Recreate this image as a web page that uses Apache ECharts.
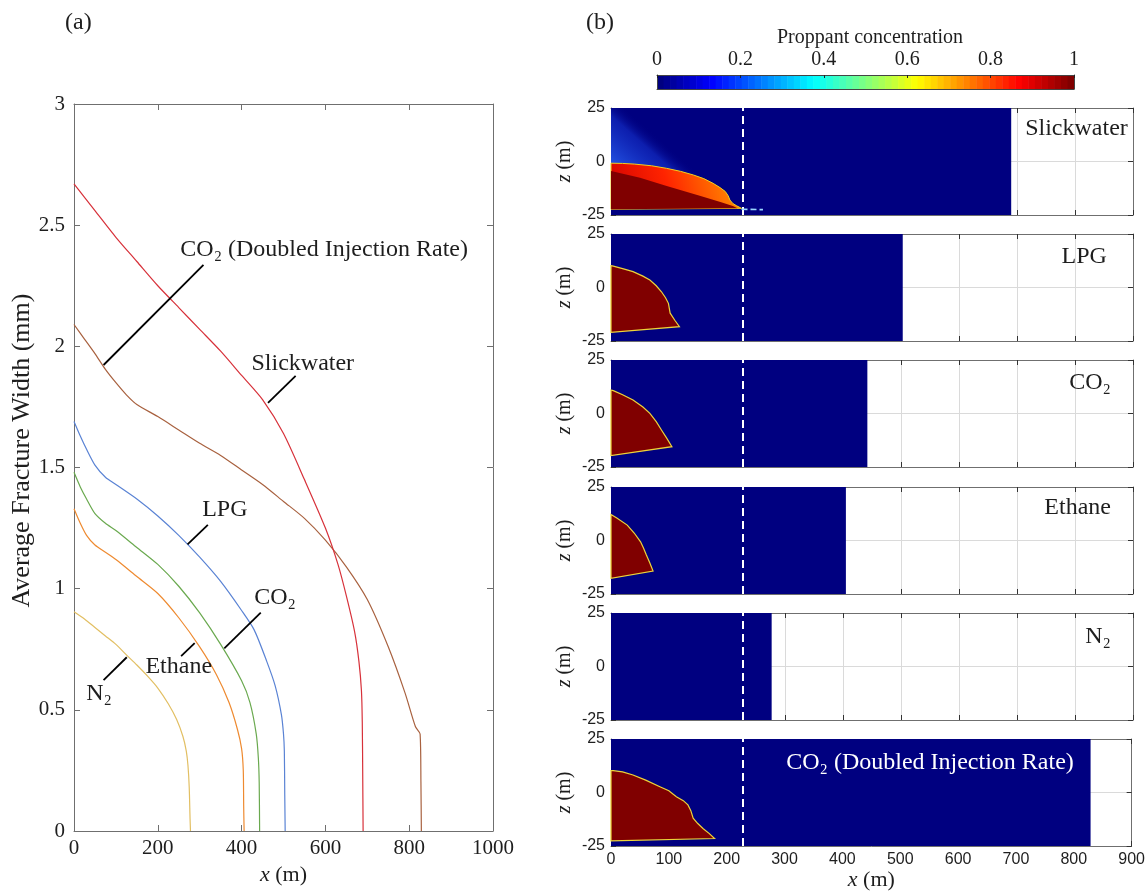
<!DOCTYPE html>
<html>
<head>
<meta charset="utf-8">
<script src="https://cdn.jsdelivr.net/npm/echarts@6/dist/echarts.min.js"></script>
<style>
  html, body { margin: 0; padding: 0; background: #fff; }
  #chart { width: 1148px; height: 896px; }
</style>
</head>
<body>
<div id="chart"></div>
<script>
// ---- (a) average fracture width along the fracture, per fracturing fluid ----
const slickwaterX = [0, 50, 100, 150, 200, 250, 300, 350, 400, 450, 500, 550, 600, 630, 650, 670, 680, 686, 688, 689, 690];
const slickwaterW = [2.67, 2.56, 2.45, 2.35, 2.25, 2.16, 2.07, 1.98, 1.88, 1.78, 1.64, 1.45, 1.25, 1.10, 0.97, 0.82, 0.70, 0.58, 0.45, 0.25, 0];
const lpgX = [0, 15, 30, 50, 75, 100, 150, 200, 250, 300, 350, 400, 430, 460, 480, 495, 500, 502, 503, 504];
const lpgW = [1.69, 1.63, 1.575, 1.51, 1.46, 1.43, 1.37, 1.30, 1.22, 1.13, 1.03, 0.91, 0.83, 0.70, 0.60, 0.48, 0.40, 0.33, 0.15, 0];
const co2X = [0, 15, 30, 50, 75, 100, 150, 200, 250, 300, 350, 400, 420, 435, 440, 442, 443];
const co2W = [1.48, 1.42, 1.37, 1.31, 1.27, 1.24, 1.17, 1.10, 1.01, 0.90, 0.77, 0.62, 0.53, 0.40, 0.30, 0.20, 0];
const ethaneX = [0, 15, 30, 50, 75, 100, 150, 200, 250, 300, 340, 370, 390, 400, 404, 405, 406];
const ethaneW = [1.33, 1.27, 1.22, 1.18, 1.15, 1.12, 1.05, 0.98, 0.88, 0.76, 0.645, 0.53, 0.42, 0.34, 0.25, 0.10, 0];
const n2X = [0, 25, 50, 75, 100, 125, 150, 175, 200, 225, 245, 260, 268, 272, 275, 277, 278];
const n2W = [0.905, 0.875, 0.84, 0.805, 0.77, 0.727, 0.685, 0.64, 0.59, 0.525, 0.46, 0.39, 0.33, 0.27, 0.18, 0.05, 0];
const co2DoubleX = [0, 25, 50, 75, 100, 125, 150, 200, 250, 300, 350, 400, 450, 500, 550, 600, 650, 700, 750, 790, 815, 826, 828, 829];
const co2DoubleW = [2.09, 2.03, 1.97, 1.905, 1.85, 1.80, 1.76, 1.71, 1.655, 1.60, 1.55, 1.49, 1.43, 1.36, 1.29, 1.20, 1.09, 0.955, 0.76, 0.57, 0.43, 0.40, 0.20, 0];

const xTicksA = [0, 200, 400, 600, 800, 1000];
const yTicksA = [0, 0.5, 1, 1.5, 2, 2.5, 3];

// ---- (b) proppant concentration in the x-z plane ----
const fluids = ['Slickwater', 'LPG', 'CO₂', 'Ethane', 'N₂', 'CO₂ (Doubled Injection Rate)'];
const fractureLength = [690, 503, 442, 405, 277, 829];      // m, extent of the fracture
const wellSpacingX = 228;                                    // m, dashed marker
// proppant bank outlines (x m, z m)
const bankSlickwater = [[0, -0.8], [20, -0.9], [40, -1.2], [70, -2.0], [96, -3.2], [120, -4.6], [142, -6.3], [160, -8.0], [176, -10.2], [188, -12.2], [197, -14], [202, -16], [205, -18], [210, -19.6], [216, -20.6], [225, -21.9], [0, -22.3]];
const coreSlickwater = [[0, -4.4], [50, -7.6], [96, -11.4], [153, -16], [190, -19], [210, -20.8], [218, -21.9], [0, -22.3]];
const suspendedSlickwater = [[0, 25], [25, 25], [165, -8.6], [142, -6.3], [96, -3.2], [40, -1.2], [0, -0.8]];
const settledTrailSlickwater = [[225, -22.3], [262, -22.5]];
const bankLPG = [[0, 10.2], [4, 10.0], [20, 8.8], [38, 7.4], [55, 5.3], [67, 3.5], [78, 0.8], [87, -2], [94, -4.8], [99, -7.4], [102, -12], [110, -15.3], [118, -18.3], [0, -21]];
const bankCO2 = [[0, 11], [4, 10.7], [20, 8.8], [38, 6.3], [55, 3], [67, 0.1], [78, -3.8], [87, -7.7], [96, -11.5], [105, -15.5], [0, -19.7]];
const bankEthane = [[0, 12.2], [10, 10.5], [28, 7.2], [40, 3.5], [51, -0.6], [56, -3.5], [61, -6.8], [67, -10.5], [72.5, -14.3], [0, -17.7]];
const bankN2 = [];
const bankCO2Double = [[0, 10.2], [4, 10.2], [20, 9.6], [38, 8.2], [60, 5.8], [84.5, 2.7], [100, 0.8], [113, -2], [125, -3.8], [133, -5.8], [138, -8.5], [142, -12], [150, -14.5], [159, -16.8], [170, -19.2], [179, -21.5], [0, -22.6]];
const banks = [bankSlickwater, bankLPG, bankCO2, bankEthane, bankN2, bankCO2Double];

const xTicksB = [0, 100, 200, 300, 400, 500, 600, 700, 800, 900];
const zTicksB = [-25, 0, 25];
const colorbarTicks = [0, 0.2, 0.4, 0.6, 0.8, 1];
const colorbarLevels = 64;

// ---- styling ----
const SERIF = '"Liberation Serif", "Times New Roman", serif';
const SANS = '"Liberation Sans", Arial, sans-serif';
const AX = '#6f6f6f';
const TXT = '#1e1e1e';
const lineColors = {
  slickwater: '#d7313a', lpg: '#5a83d4', co2: '#6aa94f',
  ethane: '#ee8a30', n2: '#e2bf63', co2Double: '#a8613f'
};

// MATLAB-style jet colour map
function jet(t) {
  const c = v => Math.round(255 * Math.max(0, Math.min(1, v)));
  return 'rgb(' + c(1.5 - Math.abs(4 * t - 3)) + ',' + c(1.5 - Math.abs(4 * t - 2)) + ',' + c(1.5 - Math.abs(4 * t - 1)) + ')';
}

const zip = (xs, ys) => xs.map((x, i) => [x, ys[i]]);
const plain = v => String(v);

// annotations in panel (a): text centre and leader segment, in data units
const notesA = [
  { text: 'CO₂ (Doubled Injection Rate)', at: [597, 2.40], from: [309, 2.336], to: [70.6, 1.923] },
  { text: 'Slickwater', at: [546, 1.93], from: [529, 1.878], to: [463, 1.767] },
  { text: 'LPG', at: [360, 1.325], from: [319.5, 1.263], to: [271, 1.183] },
  { text: 'CO₂', at: [480, 0.962], from: [445.7, 0.901], to: [358.7, 0.754] },
  { text: 'Ethane', at: [250, 0.677], from: [288, 0.775], to: [255.6, 0.722] },
  { text: 'N₂', at: [60, 0.565], from: [126, 0.717], to: [70.6, 0.623] }
];
// case labels in panel (b): right edge and vertical centre
const labelsB = [
  { at: [891, 15.5], color: TXT },
  { at: [855, 14.3], color: TXT },
  { at: [862, 14.3], color: TXT },
  { at: [862, 15.2], color: TXT },
  { at: [862, 13.8], color: TXT },
  { at: [800, 13.8], color: '#ffffff' }
];

// ---- layout ----
const gridA = { left: 74, top: 104, width: 419, height: 727 };
const subTops = [108, 234, 360, 487, 613, 739];
const subLeft = 611, subWidth = 522, subHeight = 107;
const gridCB = { left: 657, top: 75, width: 417, height: 14 };

const grids = [gridA];
subTops.forEach(t => grids.push({ left: subLeft, top: t, width: subWidth, height: subHeight }));
grids.push(gridCB);

const xAxes = [], yAxes = [];
const tickStyle = { inside: true, length: 6, lineStyle: { color: AX, width: 1 } };
const lineStyleAx = { show: true, onZero: false, lineStyle: { color: AX, width: 1 } };
const italicRich = size => ({ i: { fontStyle: 'italic', fontFamily: SERIF, fontSize: size, color: TXT } });

// panel (a) axes
xAxes.push({
  gridIndex: 0, type: 'value', position: 'bottom', min: xTicksA[0], max: xTicksA[xTicksA.length - 1], interval: 200,
  axisLine: lineStyleAx, axisTick: tickStyle, splitLine: { show: false },
  axisLabel: { fontFamily: SERIF, fontSize: 21, color: TXT, margin: 7, formatter: plain },
  name: '{i|x} (m)', nameLocation: 'middle', nameGap: 33,
  nameTextStyle: { fontFamily: SERIF, fontSize: 22, color: TXT, rich: italicRich(22) }
});
xAxes.push({
  gridIndex: 0, type: 'value', position: 'top', min: 0, max: 1000, interval: 200,
  axisLine: lineStyleAx, axisTick: tickStyle, axisLabel: { show: false }, splitLine: { show: false }
});
yAxes.push({
  gridIndex: 0, type: 'value', position: 'left', min: yTicksA[0], max: yTicksA[yTicksA.length - 1], interval: 0.5,
  axisLine: lineStyleAx, axisTick: tickStyle, splitLine: { show: false },
  axisLabel: { fontFamily: SERIF, fontSize: 21, color: TXT, margin: 9, formatter: plain },
  name: 'Average Fracture Width (mm)', nameLocation: 'middle', nameGap: 38, nameRotate: 90,
  nameTextStyle: { fontFamily: SERIF, fontSize: 26, color: TXT, padding: [0, 0, 0, 34] }
});
yAxes.push({
  gridIndex: 0, type: 'value', position: 'right', min: 0, max: 3, interval: 0.5,
  axisLine: lineStyleAx, axisTick: tickStyle, axisLabel: { show: false }, splitLine: { show: false }
});

// panel (b) axes, one pair per case
const subTick = { inside: true, length: 5, lineStyle: { color: '#333', width: 1 } };
const gridLine = { show: true, lineStyle: { color: '#dadada', width: 1 } };
fluids.forEach((f, i) => {
  const last = i === fluids.length - 1;
  xAxes.push({
    gridIndex: i + 1, type: 'value', position: 'bottom', min: xTicksB[0], max: xTicksB[xTicksB.length - 1], interval: 100,
    axisLine: lineStyleAx, axisTick: subTick, splitLine: gridLine,
    axisLabel: { show: last, fontFamily: SANS, fontSize: 16, color: TXT, margin: 6, formatter: plain },
    name: last ? '{i|x} (m)' : '', nameLocation: 'middle', nameGap: 21,
    nameTextStyle: { fontFamily: SERIF, fontSize: 22, color: TXT, rich: italicRich(22) }
  });
  xAxes.push({
    gridIndex: i + 1, type: 'value', position: 'top', min: 0, max: 900, interval: 100,
    axisLine: lineStyleAx, axisTick: subTick, axisLabel: { show: false }, splitLine: { show: false }
  });
  yAxes.push({
    gridIndex: i + 1, type: 'value', position: 'left', min: zTicksB[0], max: zTicksB[zTicksB.length - 1], interval: 25,
    axisLine: lineStyleAx, axisTick: subTick, splitLine: gridLine,
    axisLabel: { fontFamily: SANS, fontSize: 16, color: TXT, margin: 6, formatter: plain },
    name: '{i|z} (m)', nameLocation: 'middle', nameGap: 36, nameRotate: 90,
    nameTextStyle: { fontFamily: SERIF, fontSize: 20, color: TXT, rich: italicRich(20) }
  });
  yAxes.push({
    gridIndex: i + 1, type: 'value', position: 'right', min: -25, max: 25, interval: 25,
    axisLine: lineStyleAx, axisTick: subTick, axisLabel: { show: false }, splitLine: { show: false }
  });
});

// colour bar axes
const cbIdx = xAxes.length;
const cbLine = { show: true, onZero: false, lineStyle: { color: '#444', width: 1 } };
xAxes.push({
  gridIndex: 7, type: 'value', position: 'top', min: colorbarTicks[0], max: colorbarTicks[colorbarTicks.length - 1], interval: 0.2,
  z: 5, axisLine: cbLine,
  axisTick: { inside: true, length: 3, lineStyle: { color: '#222' } }, splitLine: { show: false },
  axisLabel: { fontFamily: SERIF, fontSize: 20, color: TXT, margin: 5, formatter: plain }
});
xAxes.push({
  gridIndex: 7, type: 'value', position: 'bottom', min: 0, max: 1, z: 5, axisLine: cbLine,
  axisTick: { show: false }, axisLabel: { show: false }, splitLine: { show: false }
});
yAxes.push({
  gridIndex: 7, type: 'value', position: 'left', min: 0, max: 1, z: 5, axisLine: cbLine,
  axisTick: { show: false }, axisLabel: { show: false }, splitLine: { show: false }
});
yAxes.push({
  gridIndex: 7, type: 'value', position: 'right', min: 0, max: 1, z: 5, axisLine: cbLine,
  axisTick: { show: false }, axisLabel: { show: false }, splitLine: { show: false }
});

// ---- series ----
const series = [];
const widthCurves = [
  [co2DoubleX, co2DoubleW, lineColors.co2Double],
  [slickwaterX, slickwaterW, lineColors.slickwater],
  [lpgX, lpgW, lineColors.lpg],
  [co2X, co2W, lineColors.co2],
  [ethaneX, ethaneW, lineColors.ethane],
  [n2X, n2W, lineColors.n2]
];
widthCurves.forEach(([xs, ws, color]) => {
  series.push({
    type: 'line', xAxisIndex: 0, yAxisIndex: 0, data: zip(xs, ws),
    smooth: 0.25,
    showSymbol: false, symbol: 'none', lineStyle: { color, width: 1.2 }, z: 3
  });
});
// leader lines
series.push({
  type: 'custom', xAxisIndex: 0, yAxisIndex: 0, z: 4,
  encode: { x: [0, 2], y: [1, 3] },
  data: notesA.map(n => [n.from[0], n.from[1], n.to[0], n.to[1]]),
  renderItem: (params, api) => {
    const a = api.coord([api.value(0), api.value(1)]);
    const b = api.coord([api.value(2), api.value(3)]);
    return { type: 'line', shape: { x1: a[0], y1: a[1], x2: b[0], y2: b[1] }, style: { stroke: '#000', lineWidth: 1.8 } };
  }
});
// annotation texts
series.push({
  type: 'custom', xAxisIndex: 0, yAxisIndex: 0, z: 4,
  data: notesA.map((n, i) => [n.at[0], n.at[1], i]),
  renderItem: (params, api) => {
    const p = api.coord([api.value(0), api.value(1)]);
    return { type: 'text', x: p[0], y: p[1],
      style: { text: notesA[api.value(2)].text, fill: TXT, font: '24px ' + SERIF, align: 'center', verticalAlign: 'middle' } };
  }
});

// panel (b)
const polygonSeries = (idx, pts, styleFn, z) => ({
  type: 'custom', xAxisIndex: idx, yAxisIndex: idx, z,
  data: [pts[0]],
  renderItem: (params, api) => {
    const px = pts.map(p => api.coord(p));
    return { type: 'polygon', shape: { points: px }, style: styleFn(px) };
  }
});

fluids.forEach((f, i) => {
  const idx = 2 + 2 * i;
  // fracture extent, filled with the zero-concentration colour
  series.push({
    type: 'custom', xAxisIndex: idx, yAxisIndex: idx, z: 2,
    data: [[fractureLength[i], 0]],
    renderItem: (params, api) => {
      const p0 = api.coord([0, 25]);
      const p1 = api.coord([api.value(0), -25]);
      return { type: 'rect', shape: { x: p0[0], y: p0[1], width: p1[0] - p0[0], height: p1[1] - p0[1] }, style: { fill: jet(0) } };
    }
  });
  if (i === 0) {
    // faint suspended proppant above the bank, fading towards the wedge edge
    series.push(polygonSeries(idx, suspendedSlickwater, px => {
      const a = px[1], b = px[2], p = px[6];
      const dx = b[0] - a[0], dy = b[1] - a[1], len = Math.hypot(dx, dy);
      const ux = dx / len, uy = dy / len;
      const t = (p[0] - a[0]) * ux + (p[1] - a[1]) * uy;
      const fx = a[0] + t * ux, fy = a[1] + t * uy;
      return { fill: new echarts.graphic.LinearGradient(p[0], p[1], fx, fy, [
        { offset: 0, color: 'rgba(40,95,240,0.85)' },
        { offset: 0.7, color: 'rgba(25,60,220,0.5)' },
        { offset: 1, color: 'rgba(0,0,128,0)' }
      ], true) };
    }, 3));
    series.push(polygonSeries(idx, bankSlickwater, () => ({
      fill: new echarts.graphic.LinearGradient(0, 1, 1, 0.1, [
        { offset: 0, color: jet(0.92) },
        { offset: 0.45, color: jet(0.84) },
        { offset: 1, color: jet(0.72) }
      ]),
      stroke: '#f0d020', lineWidth: 1
    }), 4));
    series.push(polygonSeries(idx, coreSlickwater, () => ({ fill: jet(1) }), 5));
    series.push({
      type: 'line', xAxisIndex: idx, yAxisIndex: idx, z: 5, data: settledTrailSlickwater,
      showSymbol: false, symbol: 'none', lineStyle: { color: '#9ad8ff', width: 1.6, type: [6, 3] }
    });
  } else if (banks[i].length) {
    series.push(polygonSeries(idx, banks[i], () => ({ fill: jet(1), stroke: '#ecd43a', lineWidth: 1.2 }), 4));
  }
  // case label and dashed marker
  series.push({
    type: 'custom', xAxisIndex: idx, yAxisIndex: idx, z: 8,
    data: [[labelsB[i].at[0], labelsB[i].at[1]]],
    renderItem: (params, api) => {
      const p = api.coord([api.value(0), api.value(1)]);
      return { type: 'text', x: p[0], y: p[1],
        style: { text: f, fill: labelsB[i].color, font: '24px ' + SERIF, align: 'right', verticalAlign: 'middle' } };
    },
    markLine: {
      silent: true, symbol: 'none', label: { show: false }, animation: false,
      lineStyle: { color: '#ffffff', width: 2, type: [8, 5] },
      data: [{ xAxis: wellSpacingX }]
    }
  });
});

// colour bar
series.push({
  type: 'custom', xAxisIndex: cbIdx, yAxisIndex: cbIdx, z: 2,
  encode: { x: [0, 1] },
  data: Array.from({ length: colorbarLevels }, (_, k) => [k / colorbarLevels, (k + 1) / colorbarLevels, k]),
  renderItem: (params, api) => {
    const a = api.coord([api.value(0), 1]);
    const b = api.coord([api.value(1), 0]);
    return { type: 'rect', shape: { x: a[0], y: a[1], width: b[0] - a[0] + 0.5, height: b[1] - a[1] },
      style: { fill: jet(api.value(2) / (colorbarLevels - 1)) } };
  }
});

const chart = echarts.init(document.getElementById('chart'), null, { renderer: 'canvas' });
chart.setOption({
  animation: false,
  backgroundColor: '#ffffff',
  title: [
    { text: '(a)', left: 60, top: 6, textStyle: { fontFamily: SERIF, fontSize: 24, fontWeight: 'normal', color: TXT } },
    { text: '(b)', left: 581, top: 6, textStyle: { fontFamily: SERIF, fontSize: 24, fontWeight: 'normal', color: TXT } },
    { text: 'Proppant concentration', left: 865, top: 23, textAlign: 'center',
      textStyle: { fontFamily: SERIF, fontSize: 20, fontWeight: 'normal', color: TXT } }
  ],
  grid: grids,
  xAxis: xAxes,
  yAxis: yAxes,
  series
});
</script>
</body>
</html>
